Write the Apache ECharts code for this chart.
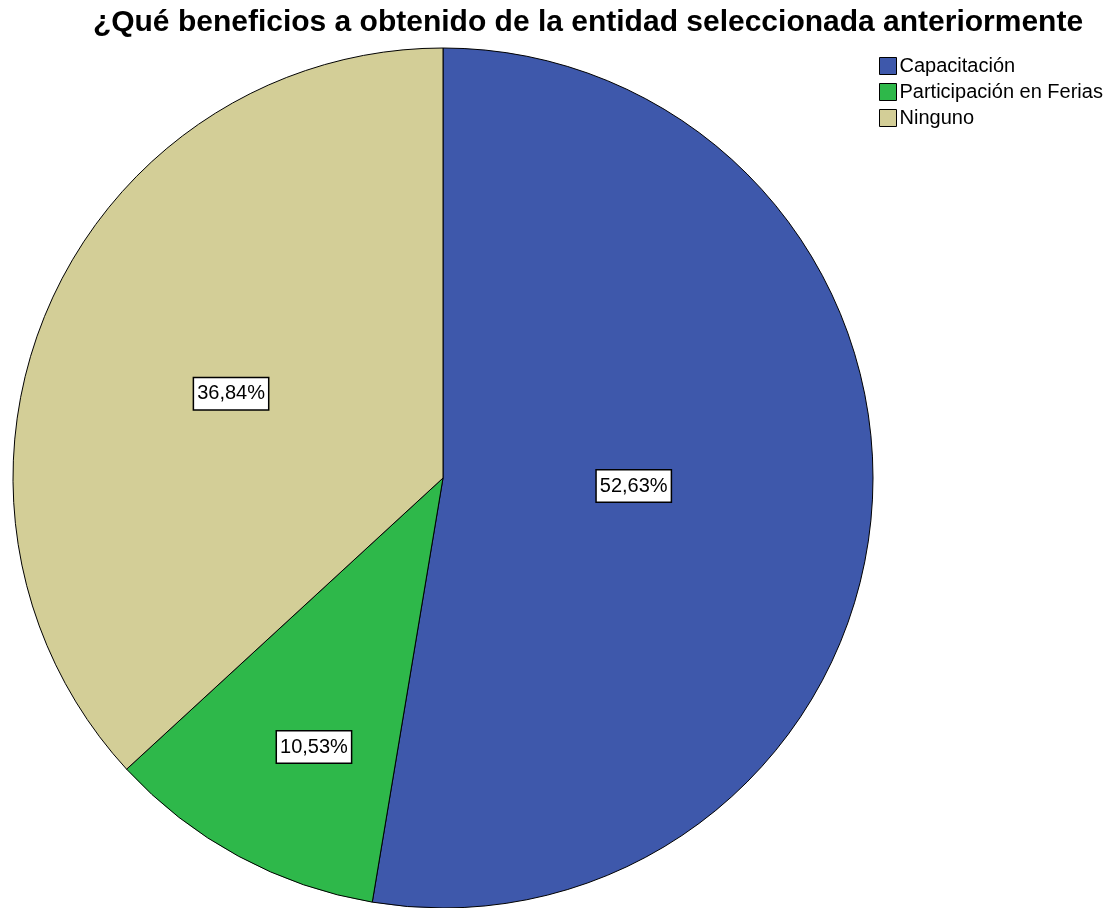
<!DOCTYPE html>
<html>
<head>
<meta charset="utf-8">
<script src="https://cdn.jsdelivr.net/npm/echarts@6/dist/echarts.min.js"></script>
<style>
html,body{margin:0;padding:0;background:#fff;}
#chart{width:1110px;height:908px;}
</style>
</head>
<body>
<div id="chart"></div>
<script>
const titleText = '¿Qué beneficios a obtenido de la entidad seleccionada anteriormente';
const categories = ['Capacitación', 'Participación en Ferias', 'Ninguno'];
const percents = [52.63, 10.53, 36.84];
const colors = ['#3e58ab', '#2eb84a', '#d3ce97'];
const labelFrac = [0.43, 0.69, 0.53];
const labelAngleShift = 2.3;

const CX = 443, CY = 478, R = 430;
const total = percents.reduce((a, b) => a + b, 0);
const midAngles = [];
let acc = 0;
percents.forEach(v => {
  const start = 90 - acc / total * 360;
  const end = 90 - (acc + v) / total * 360;
  midAngles.push((start + end) / 2);
  acc += v;
});

const chart = echarts.init(document.getElementById('chart'));
chart.setOption({
  animation: false,
  backgroundColor: '#fff',
  title: {
    text: titleText,
    left: 588, top: 8, textAlign: 'center', padding: 0,
    textStyle: { fontFamily: 'Liberation Sans', fontWeight: 'bold', fontSize: 30, color: '#000' }
  },
  legend: {
    orient: 'vertical',
    left: 879, top: 56, padding: 0,
    itemWidth: 17, itemHeight: 17, itemGap: 6,
    icon: 'rect',
    itemStyle: { borderColor: '#000', borderWidth: 1 },
    textStyle: { fontFamily: 'Liberation Sans', fontSize: 20, lineHeight: 19, color: '#000', padding: [0, 0, 0, -2] },
    data: categories
  },
  series: [{
    type: 'pie',
    center: [CX, CY],
    radius: [0, R],
    startAngle: 90,
    clockwise: true,
    label: {
      show: true,
      position: 'inside',
      formatter: p => p.value.toFixed(2).replace('.', ',') + '%',
      fontFamily: 'Liberation Sans', fontSize: 20, lineHeight: 24, color: '#000',
      backgroundColor: '#fff', borderColor: '#000', borderWidth: 1.5,
      padding: [4, 3, 3, 3]
    },
    labelLayout: function (params) {
      const i = params.dataIndex;
      const a0 = midAngles[i] * Math.PI / 180;
      const a1 = (midAngles[i] + labelAngleShift) * Math.PI / 180;
      const tx = labelFrac[i] * R * Math.cos(a1), ty = -labelFrac[i] * R * Math.sin(a1);
      const bx = 0.5 * R * Math.cos(a0), by = -0.5 * R * Math.sin(a0);
      return { dx: tx - bx + 3, dy: ty - by };
    },
    labelLine: { show: false },
    emphasis: { disabled: true },
    itemStyle: { borderColor: '#000', borderWidth: 1 },
    data: categories.map((c, i) => ({ name: c, value: percents[i], itemStyle: { color: colors[i] } }))
  }]
});
</script>
</body>
</html>
